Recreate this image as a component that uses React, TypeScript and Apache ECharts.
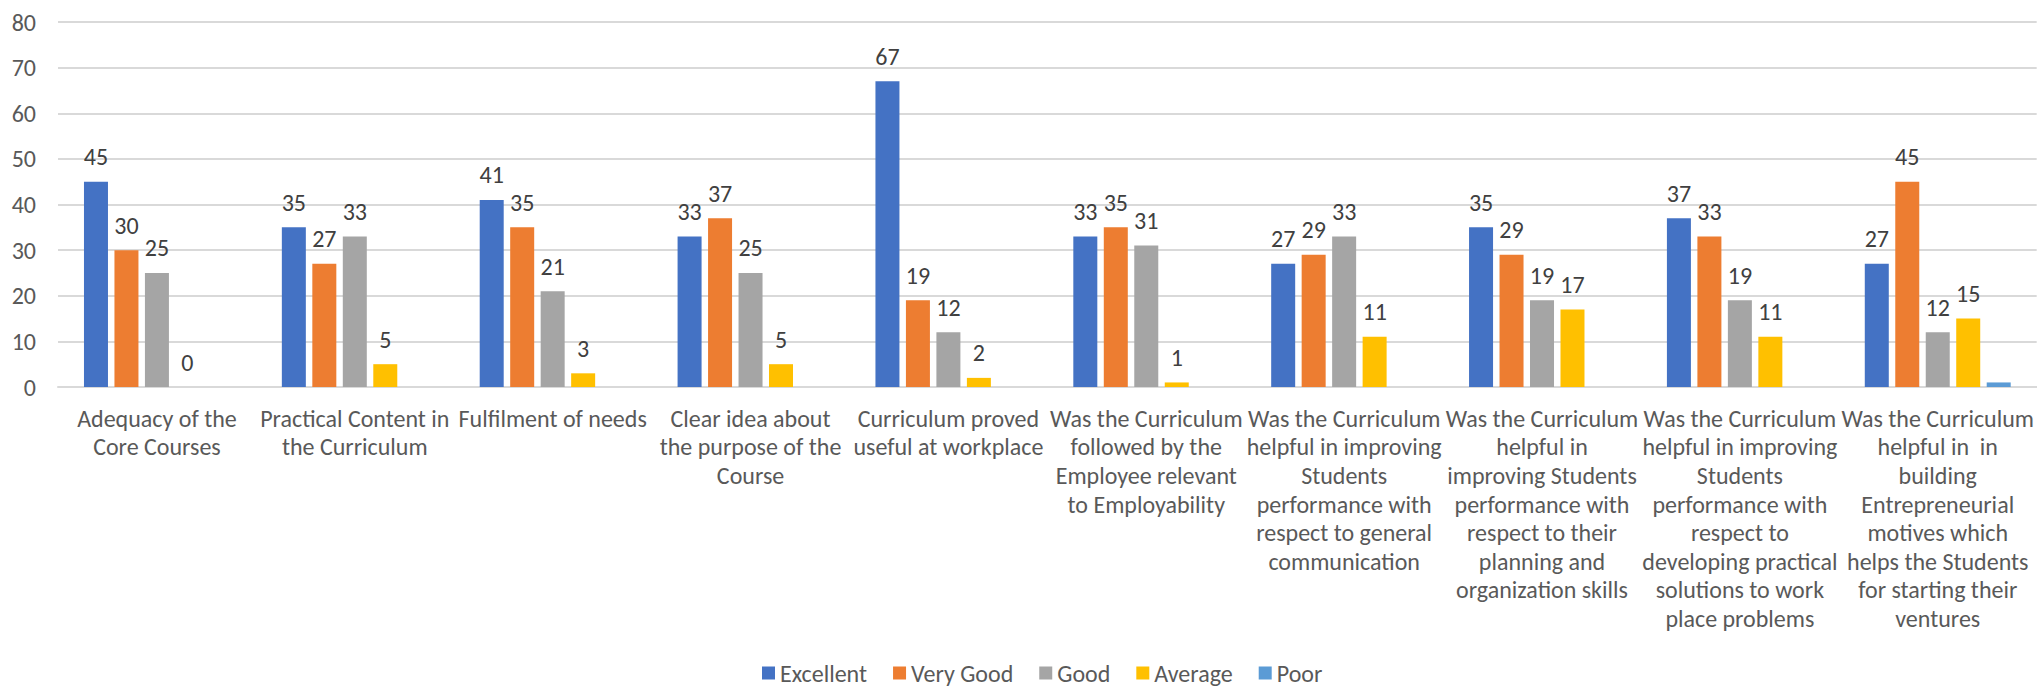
import React, { useEffect, useRef } from "react";
import * as echarts from "echarts";

const categories = [
  "Adequacy of the\nCore Courses",
  "Practical Content in\nthe Curriculum",
  "Fulfilment of needs",
  "Clear idea about\nthe purpose of the\nCourse",
  "Curriculum proved\nuseful at workplace",
  "Was the Curriculum\nfollowed by the\nEmployee relevant\nto Employability",
  "Was the Curriculum\nhelpful in improving\nStudents\nperformance with\nrespect to general\ncommunication",
  "Was the Curriculum\nhelpful in\nimproving Students\nperformance with\nrespect to their\nplanning and\norganization skills",
  "Was the Curriculum\nhelpful in improving\nStudents\nperformance with\nrespect to\ndeveloping practical\nsolutions to work\nplace problems",
  "Was the Curriculum\nhelpful in  in\nbuilding\nEntrepreneurial\nmotives which\nhelps the Students\nfor starting their\nventures",
];

const excellent = [45, 35, 41, 33, 67, 33, 27, 35, 37, 27];
const veryGood = [30, 27, 35, 37, 19, 35, 29, 29, 33, 45];
const good = [25, 33, 21, 25, 12, 31, 33, 19, 19, 12];
const average = [0, 5, 3, 5, 2, 1, 11, 17, 11, 15];
const poor = [0, 0, 0, 0, 0, 0, 0, 0, 0, 1];

const yTicks = { min: 0, max: 80, interval: 10 };

const FONT = "'Liberation Sans Narrow', Carlito, Calibri, 'Arial Narrow', sans-serif";

export default function App() {
  const ref = useRef<HTMLDivElement>(null);
  useEffect(() => {
    if (!ref.current) return;
    const chart = echarts.init(ref.current, null, { renderer: "svg" });
    const mk = (name: string, data: number[], color: string, showLabel: boolean) => ({
      name,
      type: "bar",
      data,
      barWidth: 24,
      barGap: "27%",
      itemStyle: { color },
      label: {
        show: showLabel,
        position: "top",
        distance: 13,
        color: "#404040",
        fontSize: 24,
        fontFamily: FONT,
      },
    });
    chart.setOption({
      animation: false,
      textStyle: { fontFamily: FONT },
      grid: { left: 58, right: 0, top: 22, bottom: 299, containLabel: false },
      legend: {
        bottom: 0,
        left: 757,
        padding: [0, 5, 0, 5],
        itemWidth: 13,
        itemHeight: 13,
        itemGap: 26,
        icon: "rect",
        textStyle: { color: "#595959", fontSize: 24, lineHeight: 26, fontFamily: FONT },
        data: ["Excellent", "Very Good", "Good", "Average", "Poor"],
      },
      xAxis: {
        type: "category",
        data: categories,
        axisLine: { lineStyle: { color: "#d9d9d9", width: 2 } },
        axisTick: { show: false },
        axisLabel: {
          interval: 0,
          color: "#595959",
          fontSize: 24,
          lineHeight: 28.6,
          margin: 17,
          fontFamily: FONT,
        },
      },
      yAxis: {
        type: "value",
        min: yTicks.min,
        max: yTicks.max,
        interval: yTicks.interval,
        axisLine: { show: false },
        axisTick: { show: false },
        splitLine: { lineStyle: { color: "#d9d9d9", width: 2 } },
        axisLabel: { color: "#595959", fontSize: 24, margin: 22, fontFamily: FONT },
      },
      series: [
        mk("Excellent", excellent, "#4472C4", true),
        mk("Very Good", veryGood, "#ED7D31", true),
        mk("Good", good, "#A5A5A5", true),
        mk("Average", average, "#FFC000", true),
        mk("Poor", poor, "#5B9BD5", false),
      ],
    });
    return () => chart.dispose();
  }, []);
  return (
    <div
      ref={ref}
      style={{ position: "fixed", left: 0, top: 0, width: 2037, height: 686, background: "#fff" }}
    />
  );
}
